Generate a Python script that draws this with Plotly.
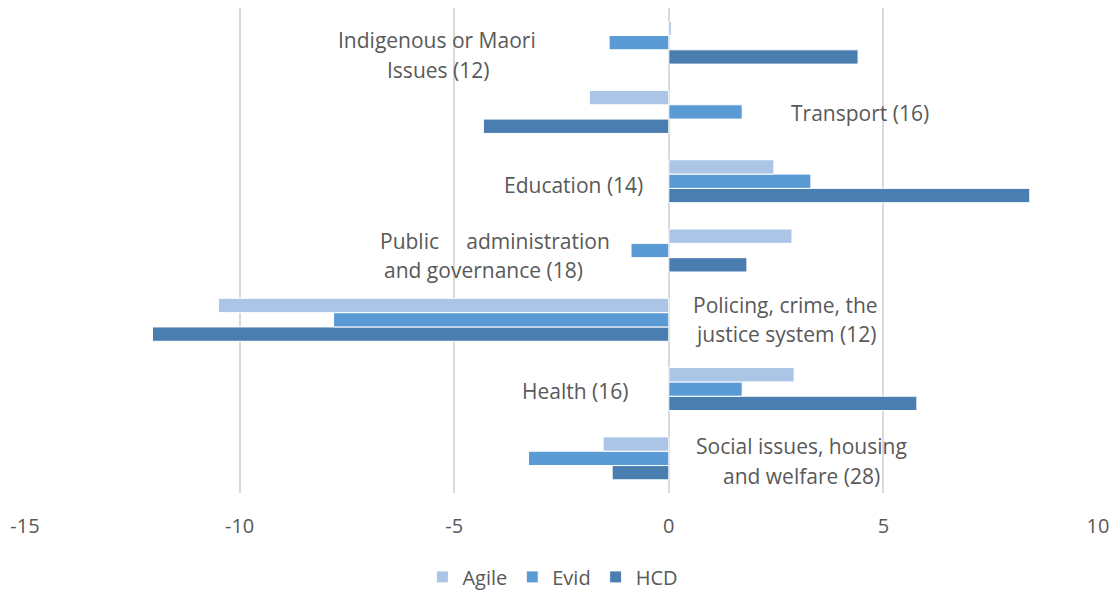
import plotly.graph_objects as go

categories = [
    "Social issues, housing and welfare (28)",
    "Health (16)",
    "Policing, crime, the justice system (12)",
    "Public administration and governance (18)",
    "Education (14)",
    "Transport (16)",
    "Indigenous or Maori Issues (12)",
]
agile = [-1.53, 2.92, -10.49, 2.87, 2.45, -1.85, 0.06]
evid = [-3.27, 1.71, -7.81, -0.88, 3.31, 1.71, -1.39]
hcd = [-1.32, 5.78, -12.03, 1.82, 8.41, -4.32, 4.41]

tick_vals = [-15, -10, -5, 0, 5, 10]
tick_text = ["-15", "-10", "-5", "0", "5", "10"]

# label lines: (category index, x in data units, yshift px, text)
labels = [
    (6, -5.39, 3, "Indigenous or Maori"),
    (6, -5.37, -27, "Issues (12)"),
    (5, 4.46, -1, "Transport (16)"),
    (4, -2.23, -4, "Education (14)"),
    (3, -4.05, 10, "Public     administration"),
    (3, -4.32, -19, "and governance (18)"),
    (2, 2.73, 15, "Policing, crime, the"),
    (2, 2.73, -14, "justice system (12)"),
    (1, -2.19, -2, "Health (16)"),
    (0, 3.09, 12, "Social issues, housing"),
    (0, 3.10, -18, "and welfare (28)"),
]

colors = {"Agile": "#ABC5E6", "Evid": "#5B9BD5", "HCD": "#4A7EB1"}

fig = go.Figure()
for name, vals in [("HCD", hcd), ("Evid", evid), ("Agile", agile)]:
    fig.add_trace(go.Bar(
        y=categories, x=vals, name=name, orientation="h",
        marker=dict(color=colors[name], line=dict(color="white", width=1)),
    ))

for ci, xv, ys, txt in labels:
    fig.add_annotation(
        x=xv, y=categories[ci], text=txt, showarrow=False, yshift=ys,
        font=dict(family="Open Sans", size=21, color="#595959"),
    )

fig.update_layout(
    width=1117, height=594,
    margin=dict(l=17, r=27, t=0, b=109),
    plot_bgcolor="white", paper_bgcolor="white",
    barmode="group", bargap=0.38, bargroupgap=0,
    font=dict(family="Open Sans", color="#595959"),
    showlegend=True,
    legend=dict(orientation="h", x=0.492, xanchor="center", y=-0.173, yanchor="middle",
                traceorder="reversed", itemwidth=30,
                font=dict(size=20, color="#595959")),
    xaxis=dict(range=[-15, 10], tickvals=tick_vals, ticktext=tick_text,
               showgrid=True, gridcolor="#D9D9D9", gridwidth=1.5,
               zeroline=True, zerolinecolor="#D9D9D9", zerolinewidth=1.5,
               tickfont=dict(size=20, color="#595959"), ticklen=0, ticks="",
               ticklabelstandoff=19, showline=False),
    yaxis=dict(showticklabels=False, showgrid=False, zeroline=False, showline=False,
               range=[-0.5, 6.5]),
)

fig.write_html("out.html")
